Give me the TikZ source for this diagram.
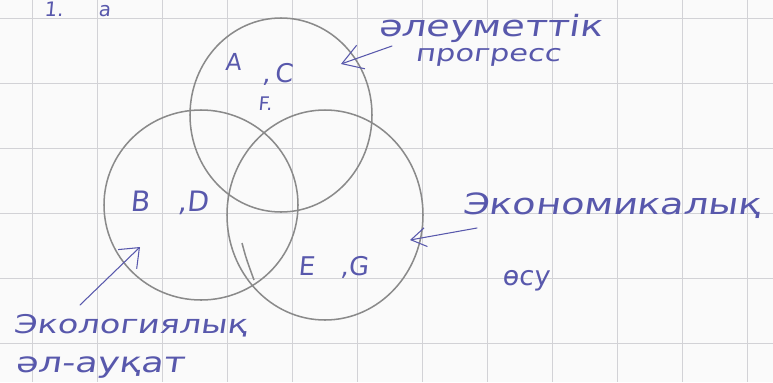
\documentclass[tikz,border=0pt]{standalone}
\usepackage{fontspec}
\usepackage{tikz}
\usetikzlibrary{arrows.meta}
\newfontfamily\handfont[FakeStretch=1.3,FakeSlant=0.15]{DejaVu Sans}
\newfontfamily\handcaps[FakeSlant=0.1]{DejaVu Sans}
\definecolor{cInk}{RGB}{88,88,172}
\definecolor{cPencil}{RGB}{138,138,138}
\definecolor{cGrid}{RGB}{210,210,214}
\definecolor{cPaper}{RGB}{250,250,250}
\tikzset{
	hw/.style     ={anchor=base west, inner sep=0pt, text=cInk, font=\handfont\fontsize{#1}{#1}\selectfont},
	hwcap/.style  ={anchor=base west, inner sep=0pt, text=cInk, font=\handcaps\fontsize{#1}{#1}\selectfont},
	pencil/.style ={draw=cPencil, line width=1.3pt},
	gridline/.style={draw=cGrid, line width=0.5pt},
	pointer/.style={draw=cInk, line width=0.9pt, line cap=round},
}

\begin{document}
\begin{tikzpicture}[x=0.03cm, y=-0.03cm]
	\fill[cPaper] (0,0) rectangle (773,382);
	\useasboundingbox (0,0) rectangle (773,382);
	% squared paper
	\foreach \gx in {32,97,...,747} \draw[gridline] (\gx,0) -- (\gx,382);
	\foreach \gy in {18,83,...,343} \draw[gridline] (0,\gy) -- (773,\gy);
	% the three circles
	\draw[pencil] (281,115) ellipse [x radius=91, y radius=97];
	\draw[pencil] (201,205) ellipse [x radius=97, y radius=95];
	\draw[pencil] (325,215) ellipse [x radius=98, y radius=105];
	\draw[pencil] (242,243) .. controls (246,258) .. (254,280);
	% letters inside
	\node[hwcap=17] (num) at (44,16) {1.\hspace{30pt}a};
	\node[hwcap=20] (lA) at (225,70) {A};
	\node[hwcap=22] (lC) at (262,82) {,\,C};
	\node[hwcap=16] (lF) at (258,110) {F.};
	\node[hwcap=24] (lBD) at (130,211) {B\quad,D};
	\node[hwcap=22] (lEG) at (298,275) {E\quad,G};
	% labels
	\node[hw=25] (soc1) at (378,36) {әлеуметтік};
	\node[hw=20] (soc2) at (415,61) {прогресс};
	\node[hw=25] (eco1) at (462,214) {Экономикалық};
	\node[hwcap=23] (eco2) at (502,285) {өсу};
	\node[hw=22] (env1) at (13,333) {Экологиялық};
	\node[hw=24] (env2) at (15,372) {әл-ауқат};
	% arrows to the circles
	\coordinate (socTail) at (392,46);
	\coordinate (socTip) at (341,64);
	\coordinate (ecoTail) at (477,228);
	\coordinate (ecoTip) at (410,240);
	\coordinate (envTail) at (80,305);
	\coordinate (envTip) at (140,247);
	\draw[pointer, -{Straight Barb[length=6mm, width=7.5mm]}] (socTail) -- (socTip);
	\draw[pointer, -{Straight Barb[length=4.5mm, width=5.7mm]}] (ecoTail) -- (ecoTip);
	\draw[pointer, -{Straight Barb[length=5mm, width=8mm]}] (envTail) -- (envTip);
\end{tikzpicture}
\end{document}
